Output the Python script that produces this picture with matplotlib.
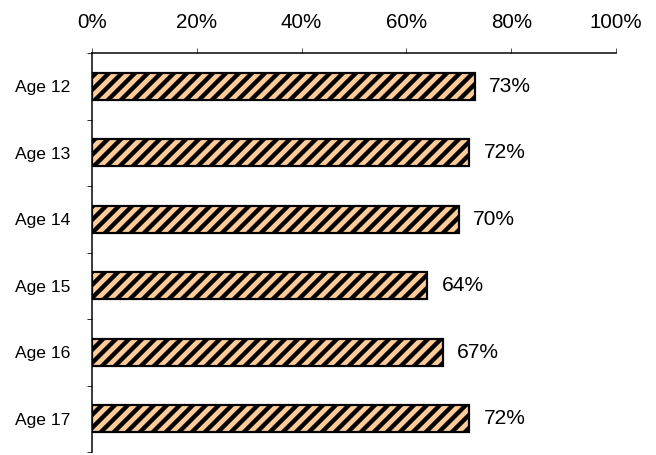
import matplotlib
matplotlib.use('Agg')
import matplotlib.pyplot as plt
import numpy as np

ages = ['Age 12', 'Age 13', 'Age 14', 'Age 15', 'Age 16', 'Age 17']
values = [73, 72, 70, 64, 67, 72]
xticks = [0, 20, 40, 60, 80, 100]

# dpi chosen so the hatch spacing matches the original stripes
DPI = 78
def pt(px):
    return px * 72.0 / DPI

plt.rcParams['font.family'] = ['Liberation Sans', 'DejaVu Sans']
plt.rcParams['hatch.linewidth'] = pt(4.4)
plt.rcParams['hatch.color'] = 'black'

fig = plt.figure(figsize=(656 / DPI, 455 / DPI), dpi=DPI)
ax = fig.add_axes([92 / 656, 1 - 452 / 455, 524 / 656, (452 - 53) / 455])

y = np.arange(len(ages))
ax.barh(y, values, height=0.4, color='#FFCC99', edgecolor='black',
        linewidth=pt(2.2), hatch='//')

for yi, v in zip(y, values):
    ax.text(v + 2.7, yi, f'{v}%', va='center', ha='left', fontsize=pt(21))

ax.set_xlim(0, 100)
ax.set_ylim(len(ages) - 0.5, -0.5)

ax.xaxis.tick_top()
ax.set_xticks(xticks)
ax.set_xticklabels([f'{t}%' for t in xticks], fontsize=pt(20.5))
ax.tick_params(axis='x', direction='out', length=pt(5), width=pt(1), color='#555555', pad=pt(16))

ax.set_yticks(y)
ax.set_yticklabels(ages, fontsize=pt(17.5))
ax.set_yticks(np.arange(-0.5, len(ages), 1.0), minor=True)
ax.tick_params(axis='y', which='major', length=0, pad=pt(22))
ax.tick_params(axis='y', which='minor', direction='out', length=pt(5), width=pt(1), color='#333333')

for s in ['right', 'bottom']:
    ax.spines[s].set_visible(False)
for s in ['left', 'top']:
    ax.spines[s].set_linewidth(pt(1.5))
    ax.spines[s].set_color('black')

fig.savefig('out.png', dpi=DPI)
